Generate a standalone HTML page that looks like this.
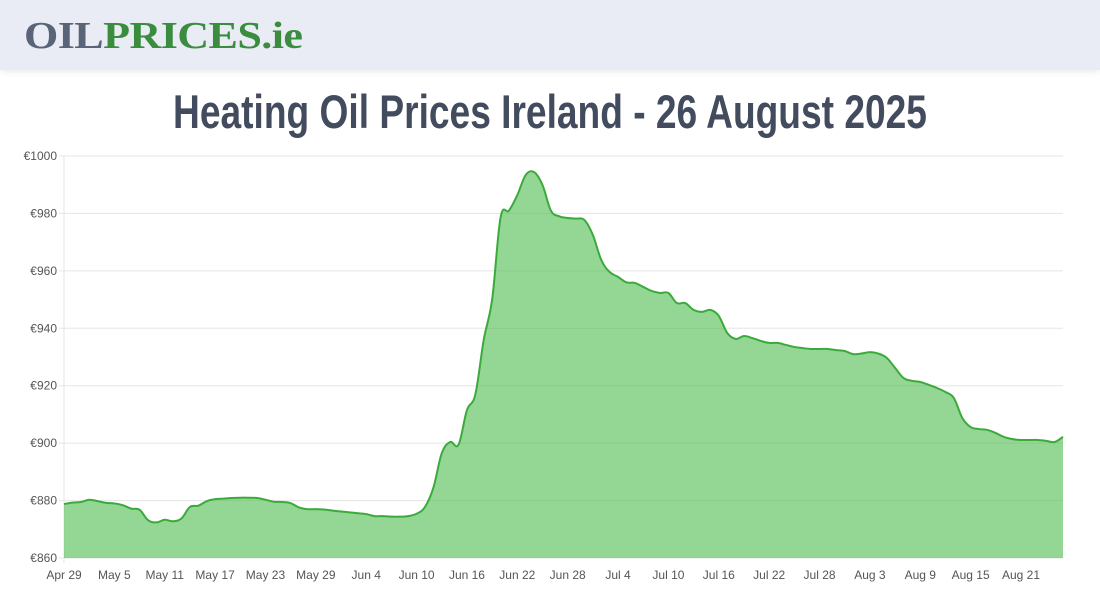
<!DOCTYPE html>
<html><head><meta charset="utf-8"><style>
body{margin:0;width:1100px;height:600px;background:#fff;overflow:hidden;font-family:"Liberation Sans",sans-serif}
#hdr{position:absolute;left:0;top:0;width:1100px;height:70px;background:#e9ecf4;box-shadow:0 2px 6px rgba(0,0,0,0.08)}
#logo{position:absolute;left:24px;top:14px;font-family:"Liberation Serif",serif;font-weight:bold;font-size:38px;letter-spacing:-0.5px;transform:scaleX(1.16);transform-origin:left;white-space:nowrap}
#title{position:absolute;left:0;width:1100px;top:84px;text-align:center;font-family:"Liberation Sans Narrow","Liberation Sans",sans-serif;font-weight:bold;font-size:47px;color:#434c5e;transform:scaleX(0.79);transform-origin:550px 0;white-space:nowrap}
</style></head><body>
<div id="hdr">
<div id="logo"><span style="color:#5a6478">OIL</span><span style="color:#3a8c3e">PRICES.ie</span></div>
</div>
<div id="title">Heating Oil Prices Ireland - 26 August 2025</div>
<svg id="chart" width="1100" height="600" style="position:absolute;left:0;top:0"></svg>
<script>
const yTicks=[860,880,900,920,940,960,980,1000];
const xLabels=["Apr 29","May 5","May 11","May 17","May 23","May 29","Jun 4","Jun 10","Jun 16","Jun 22","Jun 28","Jul 4","Jul 10","Jul 16","Jul 22","Jul 28","Aug 3","Aug 9","Aug 15","Aug 21"];
const prices=[878.8,879.3,879.5,880.3,879.8,879.2,879.0,878.4,877.2,876.8,873.2,872.4,873.3,872.8,873.8,877.8,878.2,879.8,880.5,880.7,
880.9,881.0,881.0,880.9,880.3,879.6,879.5,879.1,877.6,877.0,877.0,876.9,876.5,876.2,875.9,875.6,875.3,874.6,874.6,874.4,
874.4,874.6,875.4,877.8,884.5,896.5,900.4,899.5,911.5,917,936,950,978.5,981,986.4,993.4,994.4,989.9,981,979,
978.4,978.2,977.7,972.5,963.8,959.6,957.9,956,955.8,954.4,953,952.3,952.3,948.8,948.8,946.4,945.7,946.4,944.3,938.4,
936.3,937.3,936.6,935.6,934.9,934.9,934.2,933.5,933.1,932.8,932.8,932.8,932.4,932.1,931,931.2,931.7,931.2,929.7,926.2,
922.7,921.7,921.3,920.3,919.2,917.8,915.7,908.8,905.6,904.9,904.6,903.5,902.1,901.4,901.1,901.1,901.1,900.8,900.4,902.2];
const NS="http://www.w3.org/2000/svg";
const svg=document.getElementById('chart');
const L=64,R=1063,T=156,B=558,yMin=860,yMax=1000;
const xS=i=>L+(R-L)*i/(prices.length-1);
const yS=v=>B-(v-yMin)/(yMax-yMin)*(B-T);
function mk(t,a){const e=document.createElementNS(NS,t);for(const k in a)e.setAttribute(k,a[k]);svg.appendChild(e);return e;}
yTicks.forEach(v=>{
 const g=mk('line',{x1:L-5,x2:R,y1:yS(v),y2:yS(v),stroke:'#e5e5e5','stroke-width':1});
 
 
 const t=mk('text',{x:L-7,y:yS(v)+4,'text-anchor':'end','font-size':12,fill:'#555','font-family':'Liberation Sans, sans-serif'});
 t.textContent='€'+v;
 
 
});
const ax=mk('line',{x1:L,x2:L,y1:T,y2:B+5,stroke:'#e5e5e5'});


xLabels.forEach((s,i)=>{
 const t=mk('text',{x:xS(i*6),y:B+21,'text-anchor':'middle','font-size':12,fill:'#555','font-family':'Liberation Sans, sans-serif'});
 t.textContent=s;
 
 
});
const pts=prices.map((v,i)=>[xS(i),yS(v)]);
let d='M'+pts[0][0]+','+pts[0][1];
const k=0.18;
for(let i=0;i<pts.length-1;i++){
 const p0=pts[Math.max(0,i-1)],p1=pts[i],p2=pts[i+1],p3=pts[Math.min(pts.length-1,i+2)];
 const c1=[p1[0]+(p2[0]-p0[0])*k,p1[1]+(p2[1]-p0[1])*k];
 const c2=[p2[0]-(p3[0]-p1[0])*k,p2[1]-(p3[1]-p1[1])*k];
 d+=` C${c1[0]},${c1[1]} ${c2[0]},${c2[1]} ${p2[0]},${p2[1]}`;
}
const area=mk('path',{d:d+` L${R},${B} L${L},${B} Z`,fill:'rgba(76,187,76,0.6)',stroke:'none'});


const line=mk('path',{d:d,fill:'none',stroke:'#3aab3a','stroke-width':2});


</script>
</body></html>
